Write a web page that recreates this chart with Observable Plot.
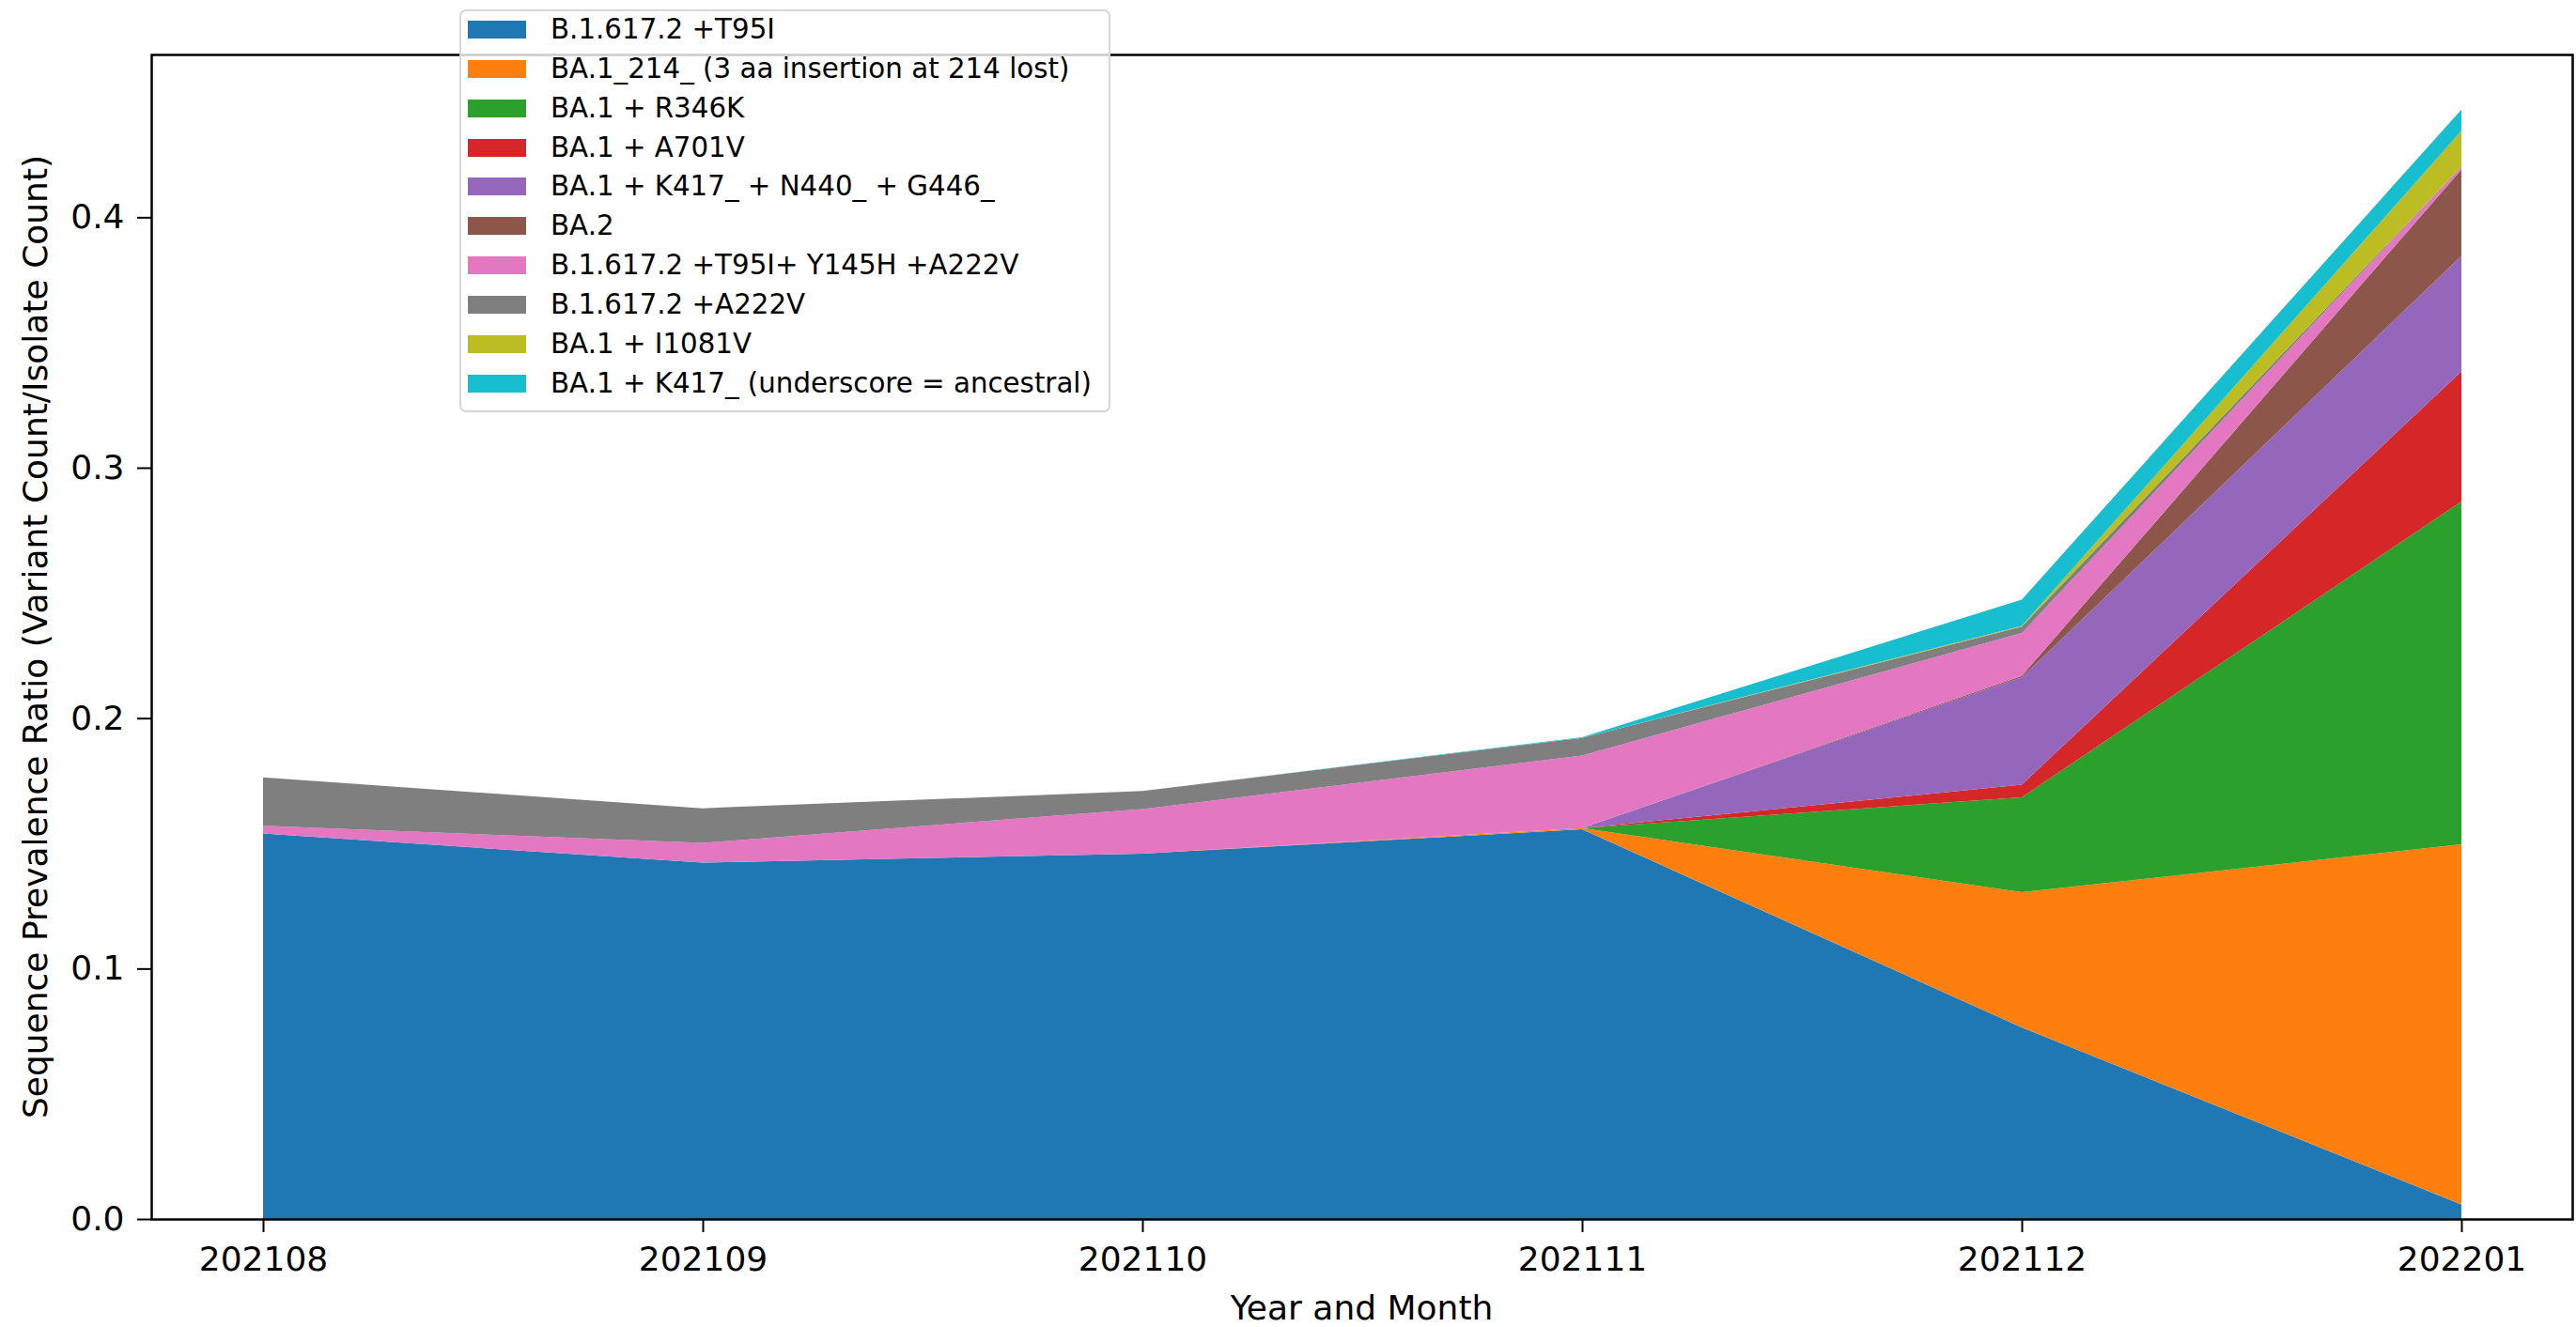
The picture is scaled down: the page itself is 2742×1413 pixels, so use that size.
<!DOCTYPE html>
<html>
<head>
<meta charset="utf-8">
<script src="https://cdn.jsdelivr.net/npm/d3@7"></script>
<script src="https://cdn.jsdelivr.net/npm/@observablehq/plot@0.6"></script>
<style>
  html, body { margin: 0; padding: 0; background: #fff; }
  #wrap { position: relative; width: 2742px; height: 1413px; overflow: hidden; font-family: "DejaVu Sans", sans-serif; color: #000; }
  #chart { position: absolute; left: 0; top: 0; }
  #chart svg [aria-label^="x-axis"] line, #chart svg [aria-label^="x-axis"] path,
  #chart svg [aria-label^="y-axis"] line, #chart svg [aria-label^="y-axis"] path { stroke-width: 2px; }
  .lab { position: absolute; white-space: nowrap; font-size: 36px; line-height: 36px; }
  #legendBox { position: absolute; left: 489px; top: 10px; width: 693px; height: 429px; box-sizing: border-box;
               border: 2px solid #d6d6d6; border-radius: 7px; background: rgba(255,255,255,0.8); }
  .sw { position: absolute; width: 62px; height: 19px; }
  .lt { position: absolute; font-size: 29.3px; height: 29px; line-height: 29px; white-space: nowrap; }
</style>
</head>
<body>
<div id="wrap">
  <div id="chart"></div>
  <div id="legendBox"></div>
  <div class="lab" id="ylab" style="left:38px; top:678px; transform: translate(-50%,-50%) rotate(-90deg);">Sequence Prevalence Ratio (Variant Count/Isolate Count)</div>
  <div class="lab" id="xlab" style="left:1449.5px; top:1375px; transform: translateX(-50%);">Year and Month</div>
</div>
<script>
// ---- data ----
const months = ["202108", "202109", "202110", "202111", "202112", "202201"];

const seriesNames = [
  "B.1.617.2 +T95I",
  "BA.1_214_ (3 aa insertion at 214 lost)",
  "BA.1 + R346K",
  "BA.1 + A701V",
  "BA.1 + K417_ + N440_ + G446_",
  "BA.2",
  "B.1.617.2 +T95I+ Y145H +A222V",
  "B.1.617.2 +A222V",
  "BA.1 + I1081V",
  "BA.1 + K417_ (underscore = ancestral)"
];

const colors = ["#1f77b4", "#ff7f0e", "#2ca02c", "#d62728", "#9467bd",
                "#8c564b", "#e377c2", "#7f7f7f", "#bcbd22", "#17becf"];

const b16172_T95I        = [0.1539, 0.1423, 0.1459, 0.1556, 0.0765, 0.0058];
const ba1_214            = [0.0,    0.0,    0.0,    0.0005, 0.0540, 0.1438];
const ba1_R346K          = [0.0,    0.0,    0.0,    0.0,    0.0379, 0.1369];
const ba1_A701V          = [0.0,    0.0,    0.0,    0.0,    0.0050, 0.0519];
const ba1_K417_N440_G446 = [0.0,    0.0,    0.0,    0.0,    0.0429, 0.0462];
const ba2                = [0.0,    0.0,    0.0,    0.0,    0.0005, 0.0345];
const b16172_T95I_Y145H  = [0.0031, 0.0079, 0.0178, 0.0290, 0.0172, 0.0011];
const b16172_A222V       = [0.0193, 0.0138, 0.0072, 0.0070, 0.0025, 0.0];
const ba1_I1081V         = [0.0,    0.0,    0.0,    0.0,    0.0003, 0.0143];
const ba1_K417           = [0.0,    0.0,    0.0,    0.0003, 0.0105, 0.0085];

const yTicks = [0.0, 0.1, 0.2, 0.3, 0.4];

// ---- build table ----
const seriesValues = [b16172_T95I, ba1_214, ba1_R346K, ba1_A701V, ba1_K417_N440_G446,
                      ba2, b16172_T95I_Y145H, b16172_A222V, ba1_I1081V, ba1_K417];
const table = [];
seriesNames.forEach((name, s) => {
  months.forEach((m, i) => table.push({month: m, series: name, value: seriesValues[s][i]}));
});

const chart = Plot.plot({
  width: 2742,
  height: 1413,
  marginLeft: 161,
  marginRight: 4,
  marginTop: 58,
  marginBottom: 115,
  style: {fontFamily: "DejaVu Sans", fontSize: "36px", color: "#000", background: "#fff", overflow: "visible"},
  x: {type: "point", domain: months, padding: 0.25, label: null, tickSize: 14, tickPadding: 15},
  y: {domain: [0, 0.465], ticks: yTicks, tickFormat: d3.format(".1f"), label: null, tickSize: 15, tickPadding: 14},
  color: {domain: seriesNames, range: colors},
  marks: [
    Plot.areaY(table, Plot.stackY({x: "month", y: "value", fill: "series", z: "series", order: seriesNames})),
    Plot.frame({stroke: "#000", strokeWidth: 2.5})
  ]
});
document.getElementById("chart").appendChild(chart);

// ---- legend ----
const wrap = document.getElementById("wrap");
seriesNames.forEach((name, i) => {
  const cy = 31.5 + 41.87 * i;
  const sw = document.createElement("div");
  sw.className = "sw";
  sw.style.left = "498px";
  sw.style.top = (cy - 9.5) + "px";
  sw.style.background = colors[i];
  wrap.appendChild(sw);
  const t = document.createElement("div");
  t.className = "lt";
  t.style.left = "586px";
  t.style.top = (cy - 14.5) + "px";
  t.textContent = name;
  wrap.appendChild(t);
});
</script>
</body>
</html>
